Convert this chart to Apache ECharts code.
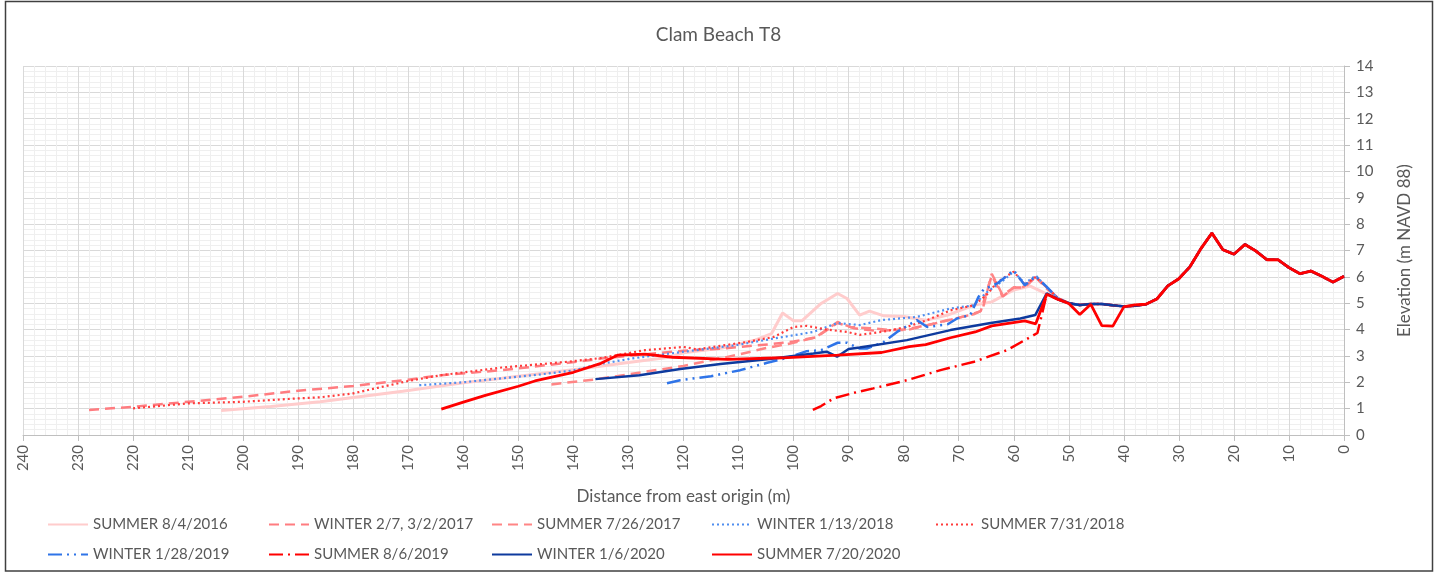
<!DOCTYPE html>
<html>
<head>
<meta charset="utf-8">
<title>Clam Beach T8</title>
<script src="https://cdn.jsdelivr.net/npm/echarts@6/dist/echarts.min.js"></script>
<style>
  html, body { margin: 0; padding: 0; background: #fff; }
  #chart { width: 1437px; height: 573px; }
</style>
</head>
<body>
<div id="chart"></div>
<script>
// profile points: [distance from east origin (m), elevation (m NAVD 88)]
var summer2016 = [[204,0.93],[195,1.08],[186,1.26],[180,1.42],[171,1.66],[160,1.98],[153,2.15],[145,2.35],[139,2.5],[130,2.75],[123,2.94],[120,3.12],[113,3.3],[107,3.6],[104,3.85],[102,4.63],[100,4.33],[98.5,4.33],[95,4.99],[92,5.37],[90.3,5.18],[88,4.55],[86.2,4.7],[83.6,4.52],[80,4.5],[76,4.35],[72,4.55],[67.3,4.92],[64,5.05],[60,5.5],[57,5.65],[55,5.45],[54,5.35],[52,5.15]];
var winter2017 = [[228,0.95],[220,1.07],[210,1.26],[200,1.45],[190,1.68],[180,1.86],[170,2.1],[164,2.27],[153,2.46],[141,2.74],[135,2.9],[130,3.0],[125,3.1],[120,3.2],[113,3.28],[108,3.38],[104,3.45],[100,3.55],[96,3.7],[92,4.25],[89,4.05],[85,3.95],[80,4.0],[76,4.15],[72,4.35],[68,4.55],[66,4.7],[64,6.05],[62,5.25],[60,5.6],[58,5.6],[56,6.0],[54,5.6],[52,5.2]];
var summer2017 = [[144,1.92],[136,2.11],[130,2.3],[120,2.62],[110,3.05],[105,3.3],[100.6,3.47],[96,3.7],[92,4.29],[89.7,4.1],[86,4.05],[82.4,3.98],[79.4,3.98],[75.7,4.17],[71.5,4.38],[67.3,4.58],[65.7,4.73],[64,6.12],[62,5.3],[60,5.6],[58.2,5.62],[56,5.98],[54,5.55],[52,5.2]];
var winter2018 = [[168,1.89],[160,2.0],[153,2.15],[146,2.3],[140,2.45],[135,2.7],[129.5,2.9],[124,3.05],[118.5,3.2],[110.4,3.41],[103.6,3.66],[96.4,3.91],[92,4.25],[88,4.17],[84,4.36],[77.6,4.48],[71.5,4.8],[67.3,4.92],[65,5.4],[62,5.85],[60,6.2],[58,5.75],[56,6.05],[54,5.6],[52,5.2]];
var summer2018 = [[220,1.01],[210,1.2],[200,1.26],[190,1.39],[186,1.43],[180,1.58],[170,2.05],[164,2.27],[153,2.56],[141,2.78],[135,2.92],[127,3.22],[120,3.34],[117.5,3.25],[108.5,3.53],[103.6,3.72],[100,4.1],[97.6,4.14],[94,4.0],[90.3,3.91],[88,3.8],[84,3.91],[79.4,4.1],[75.7,4.36],[71.5,4.73],[67.3,4.92],[65,5.3],[63,5.8],[60,6.2],[58,5.7],[56,6.0],[54,5.6],[52,5.2]];
var winter2019 = [[123,1.96],[120.6,2.08],[115,2.23],[109.7,2.46],[104.8,2.74],[101,2.94],[97.6,3.18],[95,3.22],[92,3.5],[90.3,3.5],[88,3.28],[86.7,3.28],[83.6,3.53],[81.2,3.91],[77.6,4.36],[75.7,4.1],[72,4.2],[70.3,4.42],[67.9,4.55],[66.4,5.24],[65.5,5.52],[63,5.75],[60,6.25],[58,5.68],[56,6.02],[54,5.62],[52,5.18]];
var summer2019 = [[96.5,0.95],[95,1.1],[92.7,1.39],[89,1.6],[85.5,1.77],[79.4,2.08],[73.3,2.46],[67.2,2.78],[61.2,3.22],[55.7,3.87],[54,5.35],[52,5.15]];
var winter2020 = [[136,2.12],[128,2.27],[120.6,2.5],[113.3,2.69],[104.8,2.87],[96.4,3.09],[94,3.16],[92.1,2.97],[90,3.26],[88,3.32],[79.4,3.6],[71.5,3.98],[64.2,4.25],[58.8,4.42],[56.1,4.55],[54,5.37],[52,5.15]];
var summer2020 = [[164,0.98],[160,1.25],[156,1.5],[150,1.85],[147,2.05],[140,2.38],[135,2.72],[132,3.03],[127,3.07],[122,2.95],[112,2.87],[102,2.93],[92,3.03],[84,3.13],[79,3.35],[76,3.43],[71.5,3.69],[67,3.91],[64,4.14],[58,4.33],[56,4.22],[54,5.34],[52,5.15],[50,4.99],[48,4.57],[46,4.96],[44,4.15],[42,4.13],[40,4.86],[38,4.94],[36,4.96]];
// dune section shared by the surveys
var duneBack = [[50,5.0],[48,4.93],[46,4.97],[44,4.97],[42,4.92],[40,4.88],[38,4.9],[36,4.96]];
var duneFront = [[34,5.16],[32,5.66],[30,5.93],[28,6.38],[26,7.07],[24,7.66],[22,7.03],[20,6.86],[18,7.23],[16,6.98],[14,6.65],[12,6.65],[10,6.35],[8,6.12],[6,6.22],[4,6.02],[2,5.8],[0,6.02]];

var names = ['SUMMER 8/4/2016','WINTER 2/7, 3/2/2017','SUMMER 7/26/2017','WINTER 1/13/2018','SUMMER 7/31/2018',
             'WINTER 1/28/2019','SUMMER 8/6/2019','WINTER 1/6/2020','SUMMER 7/20/2020'];

var full = function (p) { return p.concat(duneBack, duneFront); };

var chart = echarts.init(document.getElementById('chart'));
var txt = '#595959';
var font = 'Lato, "Open Sans", sans-serif';

function line(name, data, color, type, width) {
    return {
        name: name, type: 'line', data: data, symbol: 'none',
        lineStyle: { color: color, width: width || 2.5, type: type, cap: 'butt' },
        itemStyle: { color: color },
        animation: false
    };
}

// five legend columns, two rows each
var legendCols = [47, 268, 491, 711, 935];
var legends = [];
for (var c = 0; c < 5; c++) {
    var d = [names[c]];
    if (names[c + 5]) d.push(names[c + 5]);
    legends.push({
        data: d, left: legendCols[c], top: 517, orient: 'vertical', padding: 0,
        itemWidth: 40, itemHeight: 14, itemGap: 15,
        itemStyle: { opacity: 0 },
        textStyle: { fontSize: 15, color: txt, fontFamily: font },
        selectedMode: false
    });
}

var option = {
    backgroundColor: '#fff',
    textStyle: { fontFamily: font },
    title: {
        text: 'Clam Beach T8', left: 'center', top: 20,
        textStyle: { fontSize: 19, fontWeight: 'normal', color: txt, fontFamily: font }
    },
    legend: legends,
    grid: { left: 23, right: 93, top: 66, bottom: 138 },
    graphic: [{
        type: 'rect', shape: { x: 5.5, y: 1.5, width: 1427, height: 569.5 },
        style: { fill: 'none', stroke: '#404040', lineWidth: 1.5 }, silent: true
    }],
    xAxis: {
        type: 'value', inverse: true, min: 0, max: 240, interval: 10,
        name: 'Distance from east origin (m)', nameLocation: 'middle', nameGap: 53,
        nameTextStyle: { fontSize: 17, color: txt, fontFamily: font },
        axisLine: { show: true, onZero: false, lineStyle: { color: '#bfbfbf' } },
        axisTick: { show: true, length: 6, lineStyle: { color: '#bfbfbf' } },
        axisLabel: { rotate: 90, fontSize: 15, color: txt, margin: 10, fontFamily: font },
        splitLine: { show: true, lineStyle: { color: '#d9d9d9' } },
        minorTick: { show: false, splitNumber: 5 },
        minorSplitLine: { show: true, lineStyle: { color: '#efefef' } }
    },
    yAxis: {
        type: 'value', position: 'right', min: 0, max: 14, interval: 1,
        name: 'Elevation (m NAVD 88)', nameLocation: 'middle', nameGap: 52, nameRotate: 90,
        nameTextStyle: { fontSize: 17, color: txt, fontFamily: font },
        axisLine: { show: true, lineStyle: { color: '#bfbfbf' } },
        axisTick: { show: true, length: 6, lineStyle: { color: '#bfbfbf' } },
        axisLabel: { fontSize: 15, color: txt, margin: 12, fontFamily: font },
        splitLine: { show: true, lineStyle: { color: '#d9d9d9' } },
        minorTick: { show: false, splitNumber: 5 },
        minorSplitLine: { show: true, lineStyle: { color: '#efefef' } }
    },
    series: [
        line(names[0], full(summer2016), '#ffcccc', 'solid', 3),
        line(names[1], full(winter2017), '#ff7c80', [10, 6]),
        line(names[2], full(summer2017), '#ff8585', [10, 6]),
        line(names[3], full(winter2018), '#4f8ef0', [2, 3], 2.2),
        line(names[4], full(summer2018), '#ff3b3b', [2, 3], 2.2),
        line(names[5], full(winter2019), '#2f74e8', [14, 5, 2, 5, 2, 5]),
        line(names[6], full(summer2019), '#ff0000', [14, 5, 2, 5]),
        line(names[7], full(winter2020), '#0e3a9e', 'solid'),
        line(names[8], summer2020.concat(duneFront), '#ff0000', 'solid', 2.8)
    ]
};

chart.setOption(option);
</script>
</body>
</html>
